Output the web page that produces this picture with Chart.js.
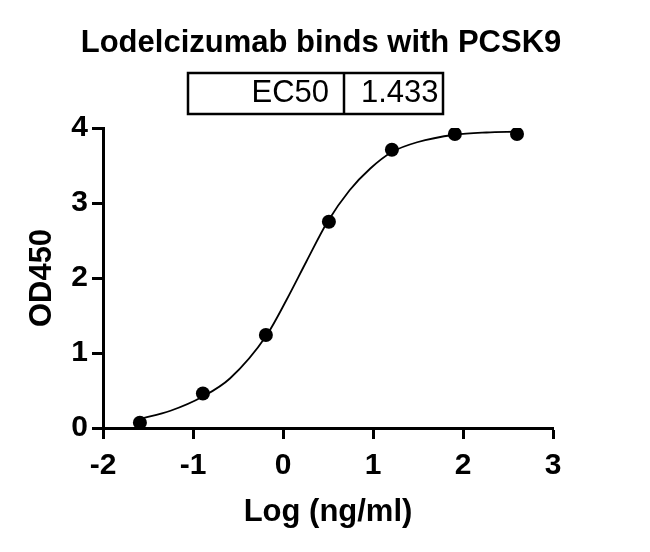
<!DOCTYPE html>
<html>
<head>
<meta charset="utf-8">
<script src="https://cdn.jsdelivr.net/npm/chart.js@4.4.1/dist/chart.umd.min.js"></script>
<style>
html,body{margin:0;padding:0;background:#fff;}
canvas{display:block;}
</style>
</head>
<body>
<canvas id="c" width="650" height="552"></canvas>
<script>
// ---- data ----
const titleText = "Lodelcizumab binds with PCSK9";
const xTitle = "Log (ng/ml)";
const yTitle = "OD450";
const tableLabel = "EC50";
const tableValue = "1.433";

const logConc = [-1.59, -0.89, -0.19, 0.51, 1.21, 1.91, 2.60];
const od450   = [0.07, 0.46, 1.24, 2.75, 3.71, 3.92, 3.92];

// fitted curve
const fitX = [-1.59, -1.25, -0.89, -0.59, -0.18, 0.04, 0.26, 0.49, 0.74, 0.97, 1.21, 1.49, 1.91, 2.26, 2.60];
const fitY = [0.12, 0.23, 0.42, 0.66, 1.24, 1.71, 2.22, 2.74, 3.17, 3.46, 3.68, 3.81, 3.91, 3.94, 3.95];

const xTicks = [-2, -1, 0, 1, 2, 3];
const yTicks = [0, 1, 2, 3, 4];

const FONT = "'Liberation Sans', Arial, Helvetica, sans-serif";

const headerPlugin = {
  id: 'header',
  afterDraw(chart) {
    const ctx = chart.ctx;
    ctx.save();
    ctx.fillStyle = '#000';
    ctx.font = "bold 31px " + FONT;
    ctx.textAlign = 'center';
    ctx.textBaseline = 'alphabetic';
    ctx.fillText(titleText, 321, 52);
    // table box
    ctx.strokeStyle = '#000';
    ctx.lineWidth = 2.5;
    ctx.strokeRect(188, 73, 255, 41);
    ctx.beginPath();
    ctx.moveTo(344, 73);
    ctx.lineTo(344, 114);
    ctx.stroke();
    ctx.font = "31px " + FONT;
    ctx.textAlign = 'right';
    ctx.fillText(tableLabel, 329, 102);
    ctx.textAlign = 'left';
    ctx.fillText(tableValue, 361, 102);
    ctx.restore();
  }
};

new Chart(document.getElementById('c'), {
  type: 'scatter',
  data: {
    datasets: [
      {
        label: 'data',
        data: logConc.map((x, i) => ({x: x, y: od450[i]})),
        pointRadius: 7,
        pointHoverRadius: 7,
        pointBackgroundColor: '#000',
        pointBorderColor: '#000',
        pointBorderWidth: 0,
        showLine: false
      },
      {
        label: 'fit',
        data: fitX.map((x, i) => ({x: x, y: fitY[i]})),
        showLine: true,
        pointRadius: 0,
        borderColor: '#000',
        borderWidth: 1.8,
        cubicInterpolationMode: 'monotone',
        fill: false
      }
    ]
  },
  options: {
    responsive: false,
    animation: false,
    devicePixelRatio: 1,
    layout: { padding: { left: 0, right: 97, top: 128, bottom: 0 } },
    plugins: {
      legend: { display: false },
      tooltip: { enabled: false },
      title: { display: false }
    },
    scales: {
      x: {
        type: 'linear',
        min: -2, max: 3,
        afterFit(s) { s.height = 124; },
        afterBuildTicks(s) { s.ticks = xTicks.map(v => ({value: v})); },
        border: { display: true, color: '#000', width: 3 },
        grid: { display: true, drawOnChartArea: false, drawTicks: true, tickLength: 11, tickWidth: 3, tickColor: '#000' },
        ticks: { color: '#000', font: { family: FONT, size: 30, weight: 'bold' }, padding: 9, maxRotation: 0 },
        title: { display: true, text: xTitle, color: '#000', font: { family: FONT, size: 31, weight: 'bold' }, padding: { top: 0, bottom: 21 } }
      },
      y: {
        type: 'linear',
        min: 0, max: 4,
        afterFit(s) { s.width = 103; },
        afterBuildTicks(s) { s.ticks = yTicks.map(v => ({value: v})); },
        border: { display: true, color: '#000', width: 3 },
        grid: { display: true, drawOnChartArea: false, drawTicks: true, tickLength: 11, tickWidth: 3, tickColor: '#000' },
        ticks: { color: '#000', font: { family: FONT, size: 30, weight: 'bold' }, padding: 4 },
        title: { display: true, text: yTitle, color: '#000', font: { family: FONT, size: 31, weight: 'bold' }, padding: { top: 24, bottom: 0 } }
      }
    }
  },
  plugins: [headerPlugin]
});
</script>
</body>
</html>
